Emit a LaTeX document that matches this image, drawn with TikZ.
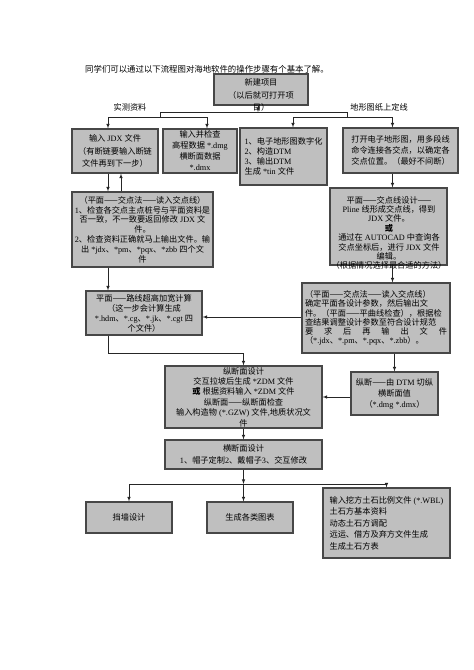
\documentclass[tikz,border=0pt]{standalone}
\usepackage{fontspec}
\setmainfont{Liberation Serif}
\newfontfamily\cjkfont{Noto Sans CJK SC}
% switch to the CJK face for Chinese characters and back for Latin text
\XeTeXinterchartokenstate=1
\chardef\cjkclass=1
\newcount\cjkcnt
\def\cjkrange#1#2{\cjkcnt=#1 \loop\XeTeXcharclass\cjkcnt=\cjkclass
  \ifnum\cjkcnt<#2 \advance\cjkcnt by 1 \repeat}
\cjkrange{"4E00}{"9FFF}
\cjkrange{"3000}{"303F}
\cjkrange{"FF00}{"FFEF}
\cjkrange{"2014}{"2014}
\XeTeXinterchartoks 0 \cjkclass = {\cjkfont}
\XeTeXinterchartoks 4095 \cjkclass = {\cjkfont}
\XeTeXinterchartoks \cjkclass 0 = {\rmfamily}
\XeTeXinterchartoks \cjkclass 4095 = {\rmfamily}

\begin{document}
\begin{tikzpicture}
  [
    x = 1pt, y = -1pt,
    stage/.style   = {shape=rectangle, draw=black!72, fill=black!25,
                      line width=1.1pt, inner sep=0pt, align=center,
                      font=\fontsize{8.2}{11}\selectfont},
    caption/.style = {inner sep=0pt, align=center,
                      font=\fontsize{8.2}{11}\selectfont},
    % plain lines of the forks, arrows for the steps
    wire/.style    = {draw=black!85, line width=0.6pt},
    flow/.style    = {wire, -latex}
  ]
  \useasboundingbox [fill=white] (0,0) rectangle (474,670);

  \node [caption, anchor=west, font=\fontsize{8.4}{11}\selectfont] (intro) at (85,69)
    {同学们可以通过以下流程图对海地软件的操作步骤有个基本了解。};

  \node [stage, minimum width=94pt, minimum height=31pt] (proj) at (261,89.5) {};
  \node [caption, font=\fontsize{8.2}{12.5}\selectfont] (projtext) at (261,95)
    {新建项目\\（以后就可打开项\\目）};

  \node [caption] (survey) at (130,107) {实测资料};
  \node [caption] (topo)   at (379,107) {地形图纸上定线};

  % first row
  \node [stage, minimum width=86pt, minimum height=44pt,
         font=\fontsize{8.2}{12.5}\selectfont] (jdx) at (115,151)
    {输入 JDX 文件\\（有断链要输入断链\\文件再到下一步）};
  \node [stage, minimum width=74pt, minimum height=44pt] (elev) at (200,151)
    {输入并检查\\高程数据 *.dmg\\横断面数据\\*.dmx};
  \node [stage, minimum width=87pt, minimum height=57pt, align=left,
         font=\fontsize{8.2}{10}\selectfont] (dtm) at (283.5,156.5)
    {1、电子地形图数字化\\2、构造DTM\\3、输出DTM\\生成 *tin 文件};
  \node [stage, minimum width=115pt, minimum height=45pt] (open) at (400.5,150.5)
    {打开电子地形图，用多段线\\命令连接各交点，以确定各\\交点位置。（最好不间断）};

  % plane design
  \node [stage, minimum width=141pt, minimum height=75pt,
         font=\fontsize{8.2}{9.8}\selectfont] (chk) at (142.5,229.5)
    {（平面——交点法——读入交点线）\\1、检查各交点主点桩号与平面资料是\\否一致，不一致要返回修改 JDX 文\\件。\\2、检查资料正确就马上输出文件。输\\出 *jdx、*pm、*pqx、*zbb 四个文\\件};
  \node [stage, minimum width=117pt, minimum height=77pt] (design) at (388.5,226.5) {};
  \node [caption, font=\fontsize{8.2}{9.4}\selectfont] (designtext) at (389,233)
    {平面——交点线设计——\\Pline 线形成交点线，得到\\JDX 文件。\\\textbf{或}\\通过在 AUTOCAD 中查询各\\交点坐标后，进行 JDX 文件\\编辑。\\（根据情况选择最合适的方法）};
  \node [stage, minimum width=148pt, minimum height=70pt, text width=142pt,
         align=left, font=\fontsize{8.2}{9.2}\selectfont] (param) at (376,318)
    {（平面——交点法——读入交点线）\\确定平面各设计参数，然后输出文\\件。（平面——平曲线检查），根据检\\查结果调整设计参数至符合设计规范\\要\hfill 求\hfill 后\hfill 再\hfill 输\hfill 出\hfill 文\hfill 件\\（*.jdx、*.pm、*.pqx、*.zbb）。};
  \node [stage, minimum width=116pt, minimum height=44pt,
         font=\fontsize{8.2}{10}\selectfont] (super) at (144,313)
    {平面——路线超高加宽计算\\（这一步会计算生成\\*.hdm、*.cg、*.jk、*.cgt 四\\个文件）};

  % profile and cross sections
  \node [stage, minimum width=157pt, minimum height=62pt,
         font=\fontsize{8.2}{10.4}\selectfont] (profile) at (243.5,397)
    {纵断面设计\\交互拉坡后生成 *ZDM 文件\\\textbf{或} 根据资料输入 *ZDM 文件\\纵断面——纵断面检查\\输入构造物 (*.GZW) 文件,地质状况文\\件};
  \node [stage, minimum width=87pt, minimum height=43pt] (dtmpro) at (394.5,393.5)
    {纵断——由 DTM 切纵\\横断面值\\（*.dmg *.dmx）};
  \node [stage, minimum width=157pt, minimum height=29pt,
         font=\fontsize{8.2}{12}\selectfont] (cross) at (243.5,454.5)
    {横断面设计\\1、帽子定制2、戴帽子3、交互修改};

  % outputs
  \node [stage, minimum width=86pt, minimum height=31pt] (wall)  at (129,517.5) {挡墙设计};
  \node [stage, minimum width=86pt, minimum height=31pt] (chart) at (250,517.5) {生成各类图表};
  \node [stage, minimum width=127pt, minimum height=70pt, align=left,
         font=\fontsize{8.2}{11.5}\selectfont] (earth) at (386.5,523)
    {输入挖方土石比例文件 (*.WBL)\\土石方基本资料\\动态土石方调配\\远运、借方及弃方文件生成\\生成土石方表};

  % forks under the project box
  \coordinate (split)  at (258,112);
  \coordinate (lsplit) at (160,112);
  \coordinate (rsplit) at (347,112);
  \coordinate (lfork)  at (160,117);
  \coordinate (rfork)  at (347,117);
  \coordinate (jdxin)  at ([xshift=-7pt]jdx.north);
  \coordinate (elevin) at ([xshift=7pt]elev.north);
  \coordinate (dtmin)  at ([xshift=9.5pt]dtm.north);
  \coordinate (openin) at ([xshift=-8pt]open.north);
  \coordinate (bus)    at (243.5,484);

  \draw [flow] (proj.south -| split) -- (split);
  \draw [wire] (lfork) -- (lsplit) -- (rsplit) -- (rfork);
  \draw [wire] (lfork -| jdxin) -- (lfork -| elevin);
  \draw [wire] (rfork -| dtmin) -- (rfork -| openin);
  \draw [flow] (lfork -| jdxin) -- (jdxin);
  \draw [flow] (lfork -| elevin) -- (elevin);
  \draw [flow] (rfork -| dtmin) -- (dtmin);
  \draw [flow] (rfork -| openin) -- (openin);

  \draw [flow] (jdx.south -| jdxin) -- (chk.north -| jdxin);
  \draw [flow] ([xshift=6pt]jdx.south |- chk.north) -- ([xshift=6pt]jdx.south);
  \draw [flow] (open.south -| openin) -- (design.north -| openin);
  \draw [flow] (design.south -| openin) -- (param.north -| openin);
  \draw [flow] (chk.south -| jdxin) -- (super.north -| jdxin);
  \draw [flow] ([yshift=1pt]param.west) -- ([yshift=1pt]param.west -| super.east);
  \draw [flow] (super.south -| jdxin) |- ([yshift=12pt]profile.north) -- (profile.north);
  \draw [flow] (dtmpro.north |- param.south) -- (dtmpro.north);
  \draw [flow] (dtmpro.west |- profile.east) -- (profile.east);
  \draw [flow] (profile.south) -- (cross.north);

  \draw [flow] (cross.south) -- (bus);
  \draw [wire] (bus -| wall.north) -- (bus -| earth.north);
  \draw [flow] (bus -| wall.north) -- (wall.north);
  \draw [flow] (bus) -- (bus |- chart.north);
  \draw [flow] (bus -| earth.north) -- (earth.north);
\end{tikzpicture}
\end{document}
